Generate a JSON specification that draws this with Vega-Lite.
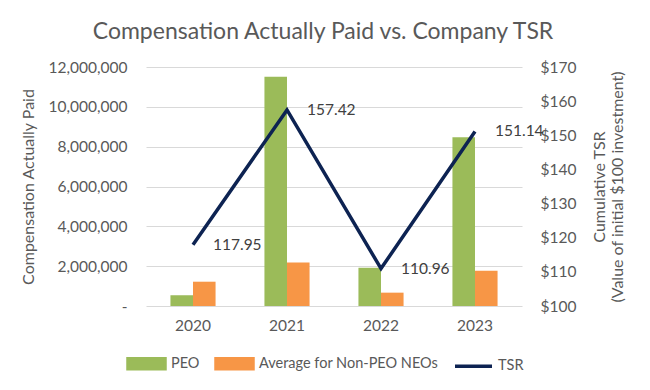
{
  "$schema": "https://vega.github.io/schema/vega-lite/v6.json",
  "width": 376,
  "height": 239,
  "autosize": {"type": "none"},
  "padding": {"left": 146, "top": 67, "right": 128, "bottom": 84},
  "background": "white",
  "title": {"text": "Compensation Actually Paid vs. Company TSR", "fontSize": 23, "font": "Lato", "fontWeight": "normal", "color": "#595959", "offset": 16, "dx": -11},
  "config": {
    "font": "Lato",
    "view": {"stroke": null},
    "axis": {"labelColor": "#595959", "titleColor": "#595959", "labelFontSize": 15.5, "titleFontSize": 16, "titleFontWeight": "normal", "labelFont": "Lato", "titleFont": "Lato", "domain": false, "ticks": false, "gridColor": "#D9D9D9", "gridWidth": 1},
    "legend": {"labelFont": "Lato", "labelFontSize": 14.5, "labelColor": "#595959", "labelLimit": 400}
  },
  "datasets": {
    "bars": [
      {"year": "2020", "series": "PEO", "value": 540000},
      {"year": "2020", "series": "Average for Non-PEO NEOs", "value": 1220000},
      {"year": "2021", "series": "PEO", "value": 11510000},
      {"year": "2021", "series": "Average for Non-PEO NEOs", "value": 2190000},
      {"year": "2022", "series": "PEO", "value": 1920000},
      {"year": "2022", "series": "Average for Non-PEO NEOs", "value": 670000},
      {"year": "2023", "series": "PEO", "value": 8470000},
      {"year": "2023", "series": "Average for Non-PEO NEOs", "value": 1770000}
    ],
    "tsr": [
      {"year": "2020", "series": "TSR", "tsr": 117.95},
      {"year": "2021", "series": "TSR", "tsr": 157.42},
      {"year": "2022", "series": "TSR", "tsr": 110.96},
      {"year": "2023", "series": "TSR", "tsr": 151.14}
    ]
  },
  "layer": [
    {
      "data": {"name": "bars"},
      "mark": {"type": "bar"},
      "encoding": {
        "x": {"field": "year", "type": "nominal", "scale": {"paddingInner": 0.52, "paddingOuter": 0.26}, "axis": {"title": null, "labelAngle": 0, "labelPadding": 12, "grid": false}},
        "xOffset": {"field": "series", "type": "nominal", "sort": ["PEO", "Average for Non-PEO NEOs"], "scale": {"paddingInner": 0}},
        "y": {"field": "value", "type": "quantitative", "scale": {"domain": [0, 12000000]}, "axis": {"title": "Compensation Actually Paid", "values": [0, 2000000, 4000000, 6000000, 8000000, 10000000, 12000000], "labelExpr": "datum.value === 0 ? '-   ' : format(datum.value, ',')", "labelPadding": 19, "titlePadding": 12}},
        "color": {
          "field": "series", "type": "nominal",
          "scale": {"domain": ["PEO", "Average for Non-PEO NEOs", "TSR"], "range": ["#9BBB59", "#F79646", "#0D2352"]},
          "legend": {
            "orient": "none", "legendX": -20, "legendY": 276, "direction": "horizontal", "title": null,
            "symbolType": "M-1,-0.27H1V0.27H-1Z", "symbolSize": 1369, "columnPadding": 9, "labelOffset": 4,
            "encode": {"symbols": {"update": {
              "shape": {"signal": "datum.value === 'TSR' ? 'M-1,0H1' : 'M-1,-0.27H1V0.27H-1Z'"},
              "fill": {"signal": "datum.value === 'TSR' ? 'transparent' : (datum.value === 'PEO' ? '#9BBB59' : '#F79646')"},
              "stroke": {"signal": "datum.value === 'TSR' ? '#0D2352' : 'transparent'"},
              "strokeWidth": {"value": 3.5},
              "opacity": {"value": 1}
            }}}
          }
        }
      }
    },
    {
      "data": {"name": "tsr"},
      "encoding": {
        "x": {"field": "year", "type": "nominal"},
        "y": {"field": "tsr", "type": "quantitative", "scale": {"domain": [100, 170]}, "axis": {"orient": "right", "grid": false, "values": [100, 110, 120, 130, 140, 150, 160, 170], "labelExpr": "'$' + datum.value", "labelPadding": 18, "title": ["Cumulative TSR", "(Value of initial $100 investment)"], "titleAngle": 270, "titlePadding": 14}}
      },
      "layer": [
        {"mark": {"type": "line", "strokeWidth": 3.5}, "encoding": {"color": {"field": "series", "type": "nominal"}}},
        {"mark": {"type": "text", "align": "left", "baseline": "middle", "dx": 20, "fontSize": 15.5, "color": "#404040", "font": "Lato"}, "encoding": {"text": {"field": "tsr", "type": "quantitative", "format": ".2f"}}}
      ]
    }
  ],
  "resolve": {"scale": {"y": "independent"}}
}
